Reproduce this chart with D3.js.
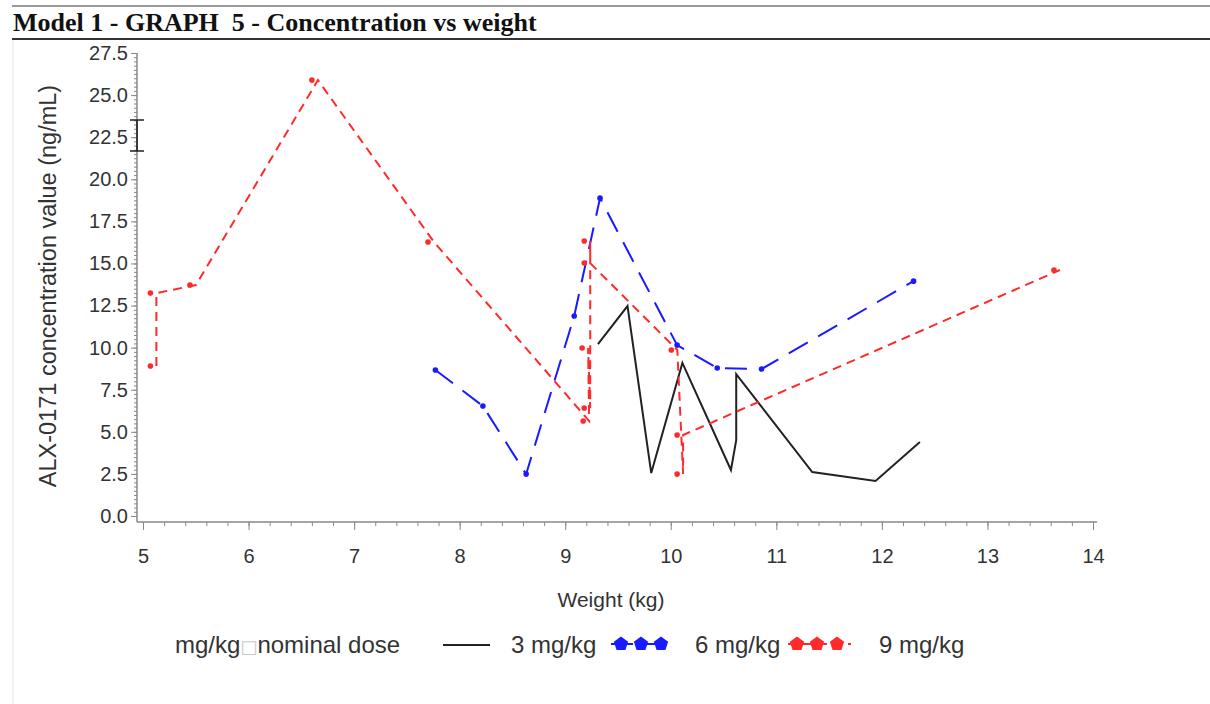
<!DOCTYPE html>
<html>
<head>
<meta charset="utf-8">
<script src="https://cdn.jsdelivr.net/npm/d3@7"></script>
<style>
  body { margin: 0; background: #fff; }
  text { font-family: "Liberation Sans", Arial, sans-serif; fill: #333; }
</style>
</head>
<body>
<div id="wrapper"></div>
<script>
// data
const weight3 = [9.31, 9.59, 9.815, 10.11, 10.57, 10.62, 10.62, 11.34, 11.94, 12.36];
const conc3   = [10.21, 12.47, 2.55, 9.09, 2.73, 4.51, 8.43, 2.61, 2.08, 4.39];

const weight6 = [7.77, 8.22, 8.63, 9.085, 9.33, 10.06, 10.44, 10.86, 12.30];
const conc6   = [8.67, 6.53, 2.49, 11.88, 18.88, 10.15, 8.79, 8.73, 13.95];

const weight9 = [5.07, 5.07, 5.445, 6.60, 7.70, 9.17, 9.16, 9.18, 9.18, 9.18, 10.005, 10.06, 10.06, 13.63];
const conc9   = [8.91, 13.24, 13.72, 25.89, 16.27, 5.64, 9.98, 6.41, 16.33, 15.02, 9.86, 2.49, 4.81, 14.61];

const xTicks = [5, 6, 7, 8, 9, 10, 11, 12, 13, 14];
const yTicks = [0, 2.5, 5, 7.5, 10, 12.5, 15, 17.5, 20, 22.5, 25, 27.5];

const legendTitle = "nominal dose";
const groupLabels = ["3 mg/kg", "6 mg/kg", "9 mg/kg"];

const W = 1210, H = 704;

const svg = d3.select("#wrapper").append("svg")
    .attr("width", W)
    .attr("height", H);

svg.append("rect").attr("width", W).attr("height", H).attr("fill", "#fff");

// frame + title
svg.append("line").attr("x1", 12).attr("x2", W).attr("y1", 6).attr("y2", 6)
    .attr("stroke", "#999").attr("stroke-width", 2);
svg.append("line").attr("x1", 12).attr("x2", W).attr("y1", 39).attr("y2", 39)
    .attr("stroke", "#333").attr("stroke-width", 2);
svg.append("line").attr("x1", 13).attr("x2", 13).attr("y1", 40).attr("y2", H)
    .attr("stroke", "#e4e4e4").attr("stroke-width", 1);

svg.append("text")
    .attr("x", 13).attr("y", 31)
    .style("font-family", "'Liberation Serif', 'Times New Roman', serif")
    .style("font-weight", "bold")
    .style("font-size", "26px")
    .style("fill", "#111")
    .style("white-space", "pre")
    .text("Model 1 - GRAPH  5 - Concentration vs weight");

// scales
const x = d3.scaleLinear().domain([5, 14]).range([143, 1093]);
const y = d3.scaleLinear().domain([0, 27.5]).range([516, 53]);

const axisX0 = 137, axisY0 = 522;
const axisColor = "#888";

// axis lines
svg.append("line").attr("x1", axisX0).attr("x2", axisX0)
    .attr("y1", y(27.5)).attr("y2", axisY0)
    .attr("stroke", axisColor).attr("stroke-width", 1.5);
svg.append("line").attr("x1", axisX0).attr("x2", x(14.04))
    .attr("y1", axisY0).attr("y2", axisY0)
    .attr("stroke", axisColor).attr("stroke-width", 1.5);

// y axis
const yMinor = svg.append("g")
    .attr("transform", `translate(${axisX0},0)`)
    .call(d3.axisLeft(y).tickValues(d3.range(0, 27.51, 0.25)).tickSize(3).tickFormat(""));
const yAxis = svg.append("g")
    .attr("transform", `translate(${axisX0},0)`)
    .call(d3.axisLeft(y).tickValues(yTicks).tickSize(6).tickPadding(3)
        .tickFormat(d3.format(".1f")));

// x axis
const xMinor = svg.append("g")
    .attr("transform", `translate(0,${axisY0})`)
    .call(d3.axisBottom(x).tickValues(d3.range(5, 14.01, 0.2)).tickSize(4).tickFormat(""));
const xAxis = svg.append("g")
    .attr("transform", `translate(0,${axisY0})`)
    .call(d3.axisBottom(x).tickValues(xTicks).tickSize(8).tickPadding(19)
        .tickFormat(d3.format("d")));

[yMinor, yAxis, xMinor, xAxis].forEach(g => {
    g.select(".domain").remove();
    g.selectAll(".tick line").attr("stroke", axisColor);
    g.selectAll(".tick text")
        .style("font-family", "'Liberation Sans', Arial, sans-serif")
        .style("font-size", "20px")
        .attr("fill", "#333");
});

// axis labels
svg.append("text")
    .attr("transform", "translate(48,286) rotate(-90)")
    .attr("text-anchor", "middle")
    .attr("dominant-baseline", "central")
    .style("font-size", "23.5px")
    .text("ALX-0171 concentration value (ng/mL)");

svg.append("text")
    .attr("x", 611).attr("y", 607)
    .attr("text-anchor", "middle")
    .style("font-size", "21px")
    .text("Weight (kg)");

// series
const series = [
    { label: groupLabels[0], xs: weight3, ys: conc3, color: "#222", dash: null, markers: false, shift: 0 },
    { label: groupLabels[1], xs: weight6, ys: conc6, color: "#1a1aff", dash: "22,12", markers: true, shift: 0 },
    { label: groupLabels[2], xs: weight9, ys: conc9, color: "#ff2a2a", dash: "9,6", markers: true, shift: 6 },
];

const line = d3.line().x(d => x(d[0])).y(d => y(d[1]));

series.forEach(s => {
    const pts = s.xs.map((v, i) => [v, s.ys[i]]);
    svg.append("path")
        .datum(pts)
        .attr("d", line)
        .attr("transform", `translate(${s.shift},0)`)
        .attr("fill", "none")
        .attr("stroke", s.color)
        .attr("stroke-width", 2)
        .attr("stroke-dasharray", s.dash);
    if (s.markers) {
        svg.append("g").selectAll("circle")
            .data(pts)
            .enter()
            .append("circle")
            .attr("cx", d => x(d[0]))
            .attr("cy", d => y(d[1]))
            .attr("r", 2.8)
            .attr("fill", s.color);
    }
});

// text cursor left on the y axis in the screenshot
svg.append("path")
    .attr("d", "M130,120 H144 M137,120 V151 M130,151 H144")
    .attr("fill", "none")
    .attr("stroke", "#222")
    .attr("stroke-width", 1.6);

// legend
const legY = 653;
const legFont = "24px";
const pentagon = (cx, cy, r) => {
    const p = d3.range(5).map(i => {
        const a = -Math.PI / 2 + i * 2 * Math.PI / 5;
        return [cx + r * Math.cos(a), cy + r * Math.sin(a)];
    });
    return "M" + p.map(q => q.join(",")).join("L") + "Z";
};

const lt = svg.append("text").attr("x", 175).attr("y", legY).style("font-size", legFont);
lt.append("tspan").text("mg/kg");
lt.append("tspan").style("fill", "#c8c8c8").style("font-family", "'DejaVu Sans', sans-serif")
    .style("font-size", "18px").text("\u25A1");
lt.append("tspan").text(legendTitle);

svg.append("line").attr("x1", 443).attr("x2", 490).attr("y1", legY - 8).attr("y2", legY - 8)
    .attr("stroke", "#222").attr("stroke-width", 2);
svg.append("text").attr("x", 511).attr("y", legY).style("font-size", legFont).text(groupLabels[0]);

svg.append("line").attr("x1", 611).attr("x2", 670).attr("y1", legY - 9).attr("y2", legY - 9)
    .attr("stroke", "#1a1aff").attr("stroke-width", 2).attr("stroke-dasharray", "22,12");
[621, 641, 661].forEach(cx => {
    svg.append("path").attr("d", pentagon(cx, legY - 9, 7.5)).attr("fill", "#1a1aff");
});
svg.append("text").attr("x", 695).attr("y", legY).style("font-size", legFont).text(groupLabels[1]);

svg.append("line").attr("x1", 788).attr("x2", 851).attr("y1", legY - 9).attr("y2", legY - 9)
    .attr("stroke", "#ff2a2a").attr("stroke-width", 2).attr("stroke-dasharray", "9,6");
[797, 817, 837].forEach(cx => {
    svg.append("path").attr("d", pentagon(cx, legY - 9, 7.5)).attr("fill", "#ff2a2a");
});
svg.append("text").attr("x", 879).attr("y", legY).style("font-size", legFont).text(groupLabels[2]);
</script>
</body>
</html>
